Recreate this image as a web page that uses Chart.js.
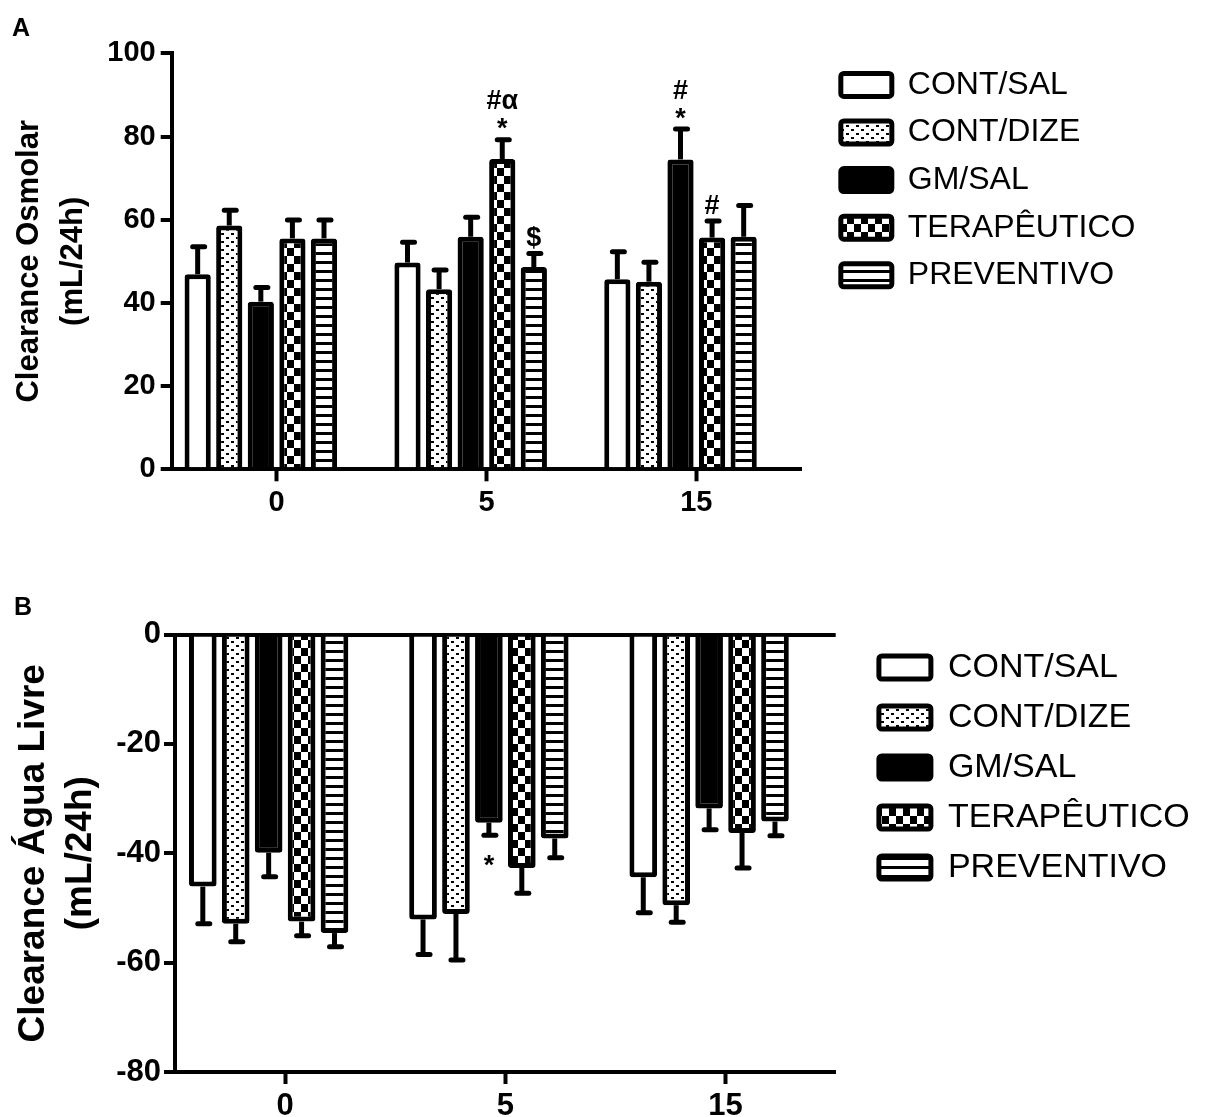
<!DOCTYPE html>
<html>
<head>
<meta charset="utf-8">
<script src="https://cdn.jsdelivr.net/npm/chart.js@4.4.0/dist/chart.umd.min.js"></script>
<style>
  html, body { margin: 0; padding: 0; background: #fff; }
  #wrap { position: relative; width: 1207px; height: 1117px; overflow: hidden; }
  canvas { position: absolute; left: 0; }
  .tag { position: absolute; font: bold 25px "Liberation Sans", Arial, sans-serif; line-height: 25px; }
</style>
</head>
<body>
<div id="wrap">
  <canvas id="chartA" width="1207" height="560" style="top:0"></canvas>
  <canvas id="chartB" width="1207" height="557" style="top:560px"></canvas>
  <div class="tag" style="left:12px;top:15px">A</div>
  <div class="tag" style="left:14px;top:594px">B</div>
</div>
<script>
const FONT = "'Liberation Sans', Arial, Helvetica, sans-serif";

// ===========================
// DATA
// ===========================
const days = ['0', '5', '15'];
const groupNames = ['CONT/SAL', 'CONT/DIZE', 'GM/SAL', 'TERAPÊUTICO', 'PREVENTIVO'];

// A - Clearance Osmolar (mL/24h), mean per day
const osmContSal = [46.9, 49.7, 45.7];
const osmContDize = [58.6, 43.3, 45.1];
const osmGmSal = [40.3, 55.9, 74.5];
const osmTerapeutico = [55.5, 74.6, 55.7];
const osmPreventivo = [55.5, 48.6, 55.9];
// error bars (SEM)
const osmContSalErr = [6.6, 4.9, 6.6];
const osmContDizeErr = [3.7, 4.6, 4.7];
const osmGmSalErr = [3.4, 4.7, 7.3];
const osmTerapeuticoErr = [4.4, 4.6, 4.0];
const osmPreventivoErr = [4.4, 3.3, 7.5];

// B - Clearance Água Livre (mL/24h)
const aguaContSal = [-46.1, -52.1, -44.4];
const aguaContDize = [-52.9, -51.1, -49.5];
const aguaGmSal = [-39.9, -34.4, -31.8];
const aguaTerapeutico = [-52.5, -42.7, -36.3];
const aguaPreventivo = [-54.6, -37.3, -34.2];
const aguaContSalErr = [6.8, 6.4, 6.5];
const aguaContDizeErr = [3.3, 8.4, 3.1];
const aguaGmSalErr = [4.4, 2.3, 3.9];
const aguaTerapeuticoErr = [2.6, 4.6, 6.4];
const aguaPreventivoErr = [2.5, 3.5, 2.6];

// significance marks: [group, day, symbols going away from the bar]
const osmMarks = [[3, 1, ['*', '#α']], [4, 1, ['$']], [2, 2, ['*', '#']], [3, 2, ['#']]];
const aguaMarks = [[2, 1, ['*']]];

// ===========================
// FILL PATTERNS
// ===========================
function pattern(w, h, draw) {
    const c = document.createElement('canvas');
    c.width = w;
    c.height = h;
    const g = c.getContext('2d');
    g.fillStyle = '#fff';
    g.fillRect(0, 0, w, h);
    g.fillStyle = '#000';
    draw(g);
    return g.createPattern(c, 'repeat');
}

const dotFill = pattern(10, 8, g => { g.fillRect(1, 1, 3, 2); g.fillRect(6, 5, 3, 2); });
const checkFill = pattern(14, 16, g => { g.fillRect(0, 0, 7, 8); g.fillRect(7, 8, 7, 8); });
const stripeFill = pattern(8, 9, g => { g.fillRect(0, 0, 8, 3); });
const fills = ['#fff', dotFill, '#000', checkFill, stripeFill];

// ===========================
// PLUGINS
// ===========================
const errorBars = {
    id: 'errorBars',
    afterDatasetsDraw(chart, args, opts) {
        const ctx = chart.ctx;
        const yScale = chart.scales.y;
        ctx.save();
        ctx.strokeStyle = '#000';
        ctx.lineWidth = opts.width;
        chart.data.datasets.forEach((ds, di) => {
            if (!ds.errors) return;
            chart.getDatasetMeta(di).data.forEach((bar, i) => {
                const v = ds.data[i];
                if (v == null) return;
                const yEnd = yScale.getPixelForValue(v + Math.sign(v) * ds.errors[i]);
                ctx.lineCap = 'butt';
                ctx.beginPath();
                ctx.moveTo(bar.x, bar.y);
                ctx.lineTo(bar.x, yEnd);
                ctx.stroke();
                ctx.lineCap = 'round';
                ctx.beginPath();
                ctx.moveTo(bar.x - opts.cap + 1, yEnd);
                ctx.lineTo(bar.x + opts.cap + 1, yEnd);
                ctx.stroke();
            });
        });
        ctx.restore();
    }
};

const marks = {
    id: 'marks',
    afterDatasetsDraw(chart, args, opts) {
        if (!opts.list) return;
        const ctx = chart.ctx;
        const yScale = chart.scales.y;
        ctx.save();
        ctx.fillStyle = '#000';
        ctx.font = 'bold ' + opts.size + 'px ' + FONT;
        ctx.textAlign = 'center';
        ctx.textBaseline = 'alphabetic';
        opts.list.forEach(([g, d, symbols]) => {
            const ds = chart.data.datasets[g];
            const bar = chart.getDatasetMeta(g).data[d];
            const v = ds.data[d];
            const dir = v < 0 ? 1 : -1;
            const capY = yScale.getPixelForValue(v + Math.sign(v) * ds.errors[d]);
            symbols.forEach((s, k) => {
                const m = ctx.measureText(s);
                const mid = capY + dir * (opts.gap + k * opts.lineGap);
                ctx.fillText(s, bar.x, mid + (m.actualBoundingBoxAscent - m.actualBoundingBoxDescent) / 2);
            });
        });
        ctx.restore();
    }
};

// ===========================
// CHART BUILDER
// ===========================
function makeDatasets(series, errors, catPct, barPct) {
    const sets = series.map((data, i) => ({
        label: groupNames[i],
        data: data,
        errors: errors[i],
        backgroundColor: fills[i],
        borderColor: '#000',
        borderWidth: 5,
        borderRadius: 3,
        categoryPercentage: catPct,
        barPercentage: barPct
    }));
    // empty sixth slot so the day tick falls between the 3rd and 4th bar
    sets.push({
        label: '',
        data: days.map(() => null),
        backgroundColor: 'rgba(0,0,0,0)',
        categoryPercentage: catPct,
        barPercentage: barPct
    });
    return sets;
}

// width Chart.js will give a one-column legend on the right
function legendWidth(p) {
    const ctx = document.createElement('canvas').getContext('2d');
    ctx.font = p.legendSize + 'px ' + FONT;
    const textW = Math.max(...groupNames.map(t => ctx.measureText(t).width));
    return p.legendPad + p.boxW + p.legendSize / 2 + textW + 10;
}

function buildChart(id, p) {
    const canvas = document.getElementById(id);
    const lw = Math.ceil(legendWidth(p)) + 2;
    const padRight = canvas.width - p.right - p.spacer - lw;
    return new Chart(canvas, {
        type: 'bar',
        data: {
            labels: days,
            datasets: makeDatasets(p.series, p.errors, p.catPct, p.barPct)
        },
        plugins: [errorBars, marks],
        options: {
            responsive: false,
            animation: false,
            layout: { padding: { top: p.top, left: 0, right: padRight, bottom: 0 } },
            plugins: {
                legend: {
                    position: 'right',
                    align: 'start',
                    maxWidth: lw,
                    labels: {
                        filter: item => item.datasetIndex < 5,
                        boxWidth: p.boxW,
                        boxHeight: 23,
                        padding: p.legendPad,
                        color: '#000',
                        useBorderRadius: true,
                        borderRadius: 3,
                        font: { family: FONT, size: p.legendSize }
                    }
                },
                tooltip: { enabled: false },
                errorBars: { width: 5, cap: 6 },
                marks: { list: p.marks, size: 27, gap: p.markGap, lineGap: 24 }
            },
            scales: {
                x: {
                    offset: true,
                    grid: {
                        offset: false,
                        drawOnChartArea: false,
                        tickLength: 12,
                        tickWidth: 4,
                        tickColor: '#000'
                    },
                    border: { color: '#000', width: 4 },
                    ticks: {
                        color: '#000',
                        padding: 4,
                        maxRotation: 0,
                        font: { family: FONT, size: p.tickSize, weight: 'bold' }
                    },
                    afterFit: s => { s.height = p.xHeight; s.paddingLeft = 0; s.paddingRight = 0; }
                },
                y: {
                    min: p.min,
                    max: p.max,
                    grid: {
                        drawOnChartArea: p.zeroLine,
                        color: c => (c.tick && c.tick.value === 0) ? '#000' : 'rgba(0,0,0,0)',
                        lineWidth: 4,
                        tickLength: 11,
                        tickWidth: 4,
                        tickColor: '#000'
                    },
                    border: { color: '#000', width: 4 },
                    ticks: {
                        stepSize: 20,
                        color: '#000',
                        padding: p.tickPad,
                        font: { family: FONT, size: p.tickSize, weight: 'bold' }
                    },
                    title: {
                        display: true,
                        text: p.title,
                        color: '#000',
                        padding: { top: p.titlePad, bottom: 0 },
                        font: { family: FONT, size: p.titleSize, weight: 'bold', lineHeight: p.titleLine }
                    },
                    afterFit: s => { s.width = p.left; s.paddingTop = 0; s.paddingBottom = 0; }
                },
                spacer: {
                    type: 'linear',
                    position: 'right',
                    grid: { display: false },
                    border: { display: false },
                    ticks: { display: false },
                    afterFit: s => { s.width = p.spacer; }
                }
            }
        }
    });
}

buildChart('chartA', {
    series: [osmContSal, osmContDize, osmGmSal, osmTerapeutico, osmPreventivo],
    errors: [osmContSalErr, osmContDizeErr, osmGmSalErr, osmTerapeuticoErr, osmPreventivoErr],
    marks: osmMarks,
    markGap: 16,
    min: 0, max: 100,
    zeroLine: false,
    title: ['Clearance Osmolar', '(mL/24h)'],
    titleSize: 31, titleLine: 1.45, titlePad: 6.5,
    tickSize: 29, tickPad: 5,
    legendSize: 32, legendPad: 15.6, boxW: 51,
    catPct: 0.903, barPct: 0.83,
    top: 53.3, left: 171.7, right: 798.4, xHeight: 90.7,
    spacer: 24
});

buildChart('chartB', {
    series: [aguaContSal, aguaContDize, aguaGmSal, aguaTerapeutico, aguaPreventivo],
    errors: [aguaContSalErr, aguaContDizeErr, aguaGmSalErr, aguaTerapeuticoErr, aguaPreventivoErr],
    marks: aguaMarks,
    markGap: 25,
    min: -80, max: 0,
    zeroLine: true,
    title: ['Clearance Água Livre', '(mL/24h)'],
    titleSize: 37, titleLine: 1.25, titlePad: 11,
    tickSize: 31, tickPad: 3,
    legendSize: 34, legendPad: 16, boxW: 52,
    catPct: 0.897, barPct: 0.84,
    top: 74.5, left: 175, right: 833.5, xHeight: 45,
    spacer: 27.2
});
</script>
</body>
</html>
